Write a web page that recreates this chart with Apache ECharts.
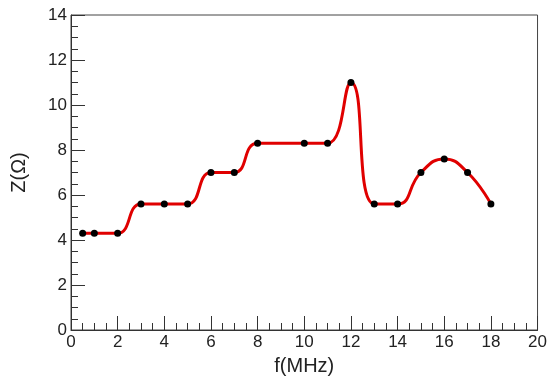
<!DOCTYPE html>
<html>
<head>
<meta charset="utf-8">
<script src="https://cdn.jsdelivr.net/npm/echarts@6/dist/echarts.min.js"></script>
<style>
html,body{margin:0;padding:0;background:#fff;}
#chart{width:550px;height:382px;}
</style>
</head>
<body>
<div id="chart"></div>
<script>
var freqMHz = [0.5, 1, 2, 3, 4, 5, 6, 7, 8, 10, 11, 12, 13, 14, 15, 16, 17, 18];
var impedance = [4.3, 4.3, 4.3, 5.6, 5.6, 5.6, 7.0, 7.0, 8.3, 8.3, 8.3, 11.0, 5.6, 5.6, 7.0, 7.6, 7.0, 5.6];
var xTitle = 'f(MHz)';
var yTitle = 'Z(\u03A9)';

var points = freqMHz.map(function (f, i) { return [f, impedance[i]]; });
var font = 'Liberation Sans, Arial, Helvetica, sans-serif';
var chart = echarts.init(document.getElementById('chart'));
chart.setOption({
  animation: false,
  backgroundColor: '#fff',
  grid: { left: 71, right: 12, top: 15, bottom: 52, show: true, borderColor: '#444', borderWidth: 1 },
  xAxis: {
    type: 'value', min: 0, max: 20, interval: 2,
    name: xTitle, nameLocation: 'middle', nameGap: 26,
    nameTextStyle: { fontFamily: font, fontSize: 20, color: '#222' },
    axisLine: { show: true, lineStyle: { color: '#333', width: 1 } },
    axisTick: { show: true, inside: true, length: 14, lineStyle: { color: '#333' } },
    minorTick: { show: true, splitNumber: 4, length: 7, lineStyle: { color: '#333' } },
    axisLabel: { fontFamily: font, fontSize: 17, color: '#222', margin: 4 },
    splitLine: { show: false }
  },
  yAxis: {
    type: 'value', min: 0, max: 14, interval: 2,
    name: yTitle, nameLocation: 'middle', nameGap: 42, nameRotate: 90,
    nameTextStyle: { fontFamily: font, fontSize: 20, color: '#222' },
    axisLine: { show: true, lineStyle: { color: '#333', width: 1 } },
    axisTick: { show: true, inside: true, length: 14, lineStyle: { color: '#333' } },
    minorTick: { show: true, splitNumber: 4, length: 7, lineStyle: { color: '#333' } },
    axisLabel: { fontFamily: font, fontSize: 17, color: '#222', margin: 4 },
    splitLine: { show: false }
  },
  series: [{
    type: 'line',
    data: points,
    smooth: 0.5,
    symbol: 'circle',
    symbolSize: 7,
    itemStyle: { color: '#000' },
    lineStyle: { color: '#e00000', width: 3 }
  }]
});
</script>
</body>
</html>
